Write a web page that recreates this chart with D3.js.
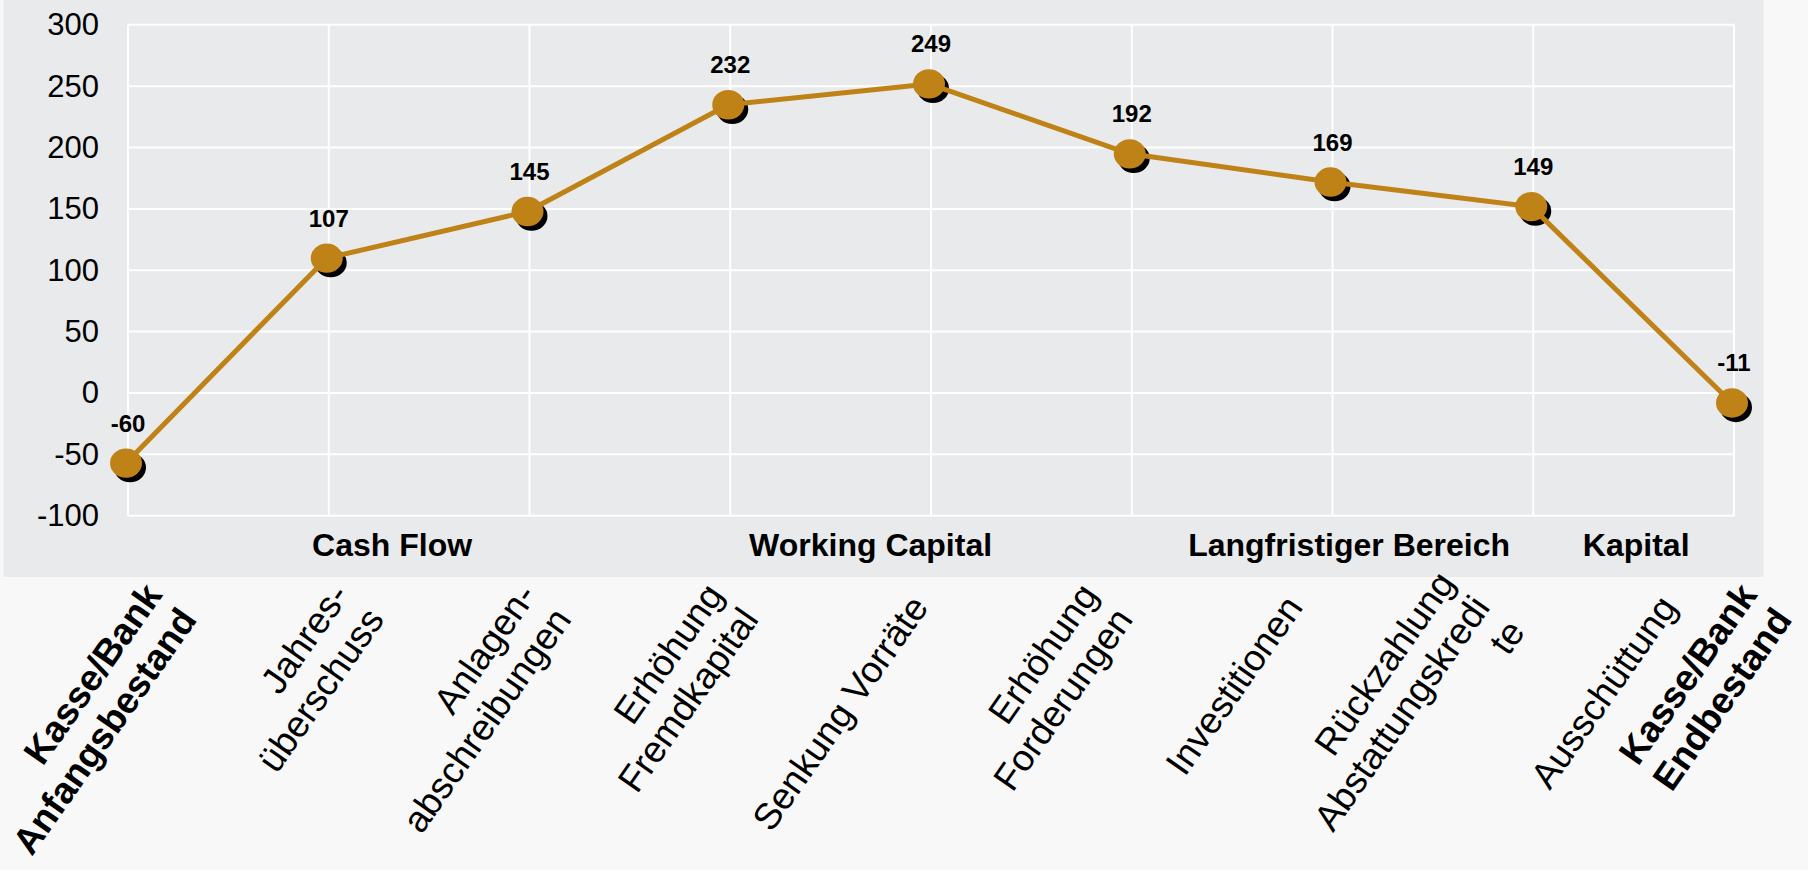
<!DOCTYPE html>
<html>
<head>
<meta charset="utf-8">
<script src="https://cdnjs.cloudflare.com/ajax/libs/d3/7.8.5/d3.min.js"></script>
<style>
  html, body { margin: 0; padding: 0; background: #f8f8f8; }
  svg { display: block; font-family: "Liberation Sans", Arial, sans-serif; }
</style>
</head>
<body>
<div id="chart"></div>
<script>
const W = 1808, H = 870;

// categories shown under the chart (one more than points: the last point is the end balance)
const labels = [
  ['Kasse/Bank', 'Anfangsbestand'],
  ['Jahres-', 'überschuss'],
  ['Anlagen-', 'abschreibungen'],
  ['Erhöhung', 'Fremdkapital'],
  ['Senkung Vorräte'],
  ['Erhöhung', 'Forderungen'],
  ['Investitionen'],
  ['Rückzahlung', 'Abstattungskredi', 'te'],
  ['Ausschüttung'],
  ['Kasse/Bank', 'Endbestand']
];
const boldLabels = [0, 9];

// running cash balance
const values = [-60, 107, 145, 232, 249, 192, 169, 149, -11];

const groups = ['Cash Flow', 'Working Capital', 'Langfristiger Bereich', 'Kapital'];
const groupFrom = [1, 3, 6, 8];
const groupTo = [2, 5, 7, 8];

const yTicks = [-100, -50, 0, 50, 100, 150, 200, 250, 300];

const plot = { left: 128, right: 1734, top: 24.8, bottom: 515.7 };

const svg = d3.select('#chart')
  .append('svg')
  .attr('width', W)
  .attr('height', H);

svg.append('rect')
  .attr('x', 3.5).attr('y', 0)
  .attr('width', 1760).attr('height', 577)
  .attr('fill', '#e9eaeb');

const x = d3.scalePoint()
  .domain(d3.range(values.length))
  .range([plot.left, plot.right]);

const y = d3.scaleLinear()
  .domain([-100, 300])
  .range([plot.bottom, plot.top]);

// group label positions follow a wider 10-slot category spacing
const gx = d3.scaleLinear().domain([0, 9]).range([105, 1827.6]);
// rotated category labels
const lx = d3.scalePoint().domain(d3.range(labels.length)).range([170, 1855]);

// grid
const grid = svg.append('g').attr('stroke', '#ffffff').attr('stroke-width', 2);
grid.selectAll('.hg')
  .data(yTicks)
  .enter()
  .append('line')
  .attr('x1', plot.left).attr('x2', plot.right)
  .attr('y1', d => y(d)).attr('y2', d => y(d));
grid.selectAll('.vg')
  .data(x.domain())
  .enter()
  .append('line')
  .attr('x1', d => x(d)).attr('x2', d => x(d))
  .attr('y1', plot.top).attr('y2', plot.bottom);

// y axis labels (plain hyphen for negatives)
const yAxis = d3.axisLeft(y).tickValues(yTicks).tickSize(0).tickPadding(29).tickFormat(d => String(d));
svg.append('g')
  .attr('transform', `translate(${plot.left},0)`)
  .call(yAxis)
  .call(g => g.select('.domain').remove())
  .selectAll('text')
  .style('font-size', '31px')
  .style('font-family', '"Liberation Sans", Arial, sans-serif')
  .attr('fill', '#000');

// shadow markers
svg.append('g')
  .selectAll('ellipse')
  .data(values)
  .enter()
  .append('ellipse')
  .attr('cx', (d, i) => x(i) + 2)
  .attr('cy', d => y(d) + 1)
  .attr('rx', 16).attr('ry', 14.7)
  .attr('fill', '#000');

const front = svg.append('g').attr('transform', 'translate(-2,-3.5)');

front.append('path')
  .datum(values)
  .attr('fill', 'none')
  .attr('stroke', '#bf8217')
  .attr('stroke-width', 5)
  .attr('stroke-linejoin', 'round')
  .attr('d', d3.line().x((d, i) => x(i)).y(d => y(d)));

front.selectAll('ellipse')
  .data(values)
  .enter()
  .append('ellipse')
  .attr('cx', (d, i) => x(i))
  .attr('cy', d => y(d))
  .attr('rx', 16).attr('ry', 14.7)
  .attr('fill', '#bf8217');

// value labels
svg.append('g')
  .selectAll('text')
  .data(values)
  .enter()
  .append('text')
  .attr('x', (d, i) => x(i))
  .attr('y', d => y(d) - 35)
  .attr('text-anchor', 'middle')
  .style('font-size', '24px')
  .style('font-weight', 'bold')
  .text(d => d);

// group labels
svg.append('g')
  .selectAll('text')
  .data(groups)
  .enter()
  .append('text')
  .attr('x', (d, i) => gx((groupFrom[i] + groupTo[i]) / 2))
  .attr('y', 556)
  .attr('text-anchor', 'middle')
  .style('font-size', '32px')
  .style('font-weight', 'bold')
  .text(d => d);

// rotated category labels
const lab = svg.append('g')
  .selectAll('g')
  .data(labels)
  .enter()
  .append('g')
  .attr('transform', (d, i) => `translate(${lx(i)},600) rotate(-55)`);

lab.append('text')
  .attr('text-anchor', 'end')
  .style('font-size', '37px')
  .style('font-weight', (d, i) => boldLabels.includes(i) ? 'bold' : 'normal')
  .selectAll('tspan')
  .data(d => d.map((t, k) => ({ t, k, n: d.length })))
  .enter()
  .append('tspan')
  .attr('x', 0)
  .attr('dy', p => p.k === 0 ? `${0.35 - (p.n - 1) / 2 * 1.15}em` : '1.15em')
  .text(p => p.t);

// keep labels inside the picture
lab.each(function(d, i) {
  const b = this.getBoundingClientRect();
  if (b.right > W - 8) {
    d3.select(this).attr('transform', `translate(${lx(i) - (b.right - (W - 8))},600) rotate(-55)`);
  }
});
</script>
</body>
</html>
